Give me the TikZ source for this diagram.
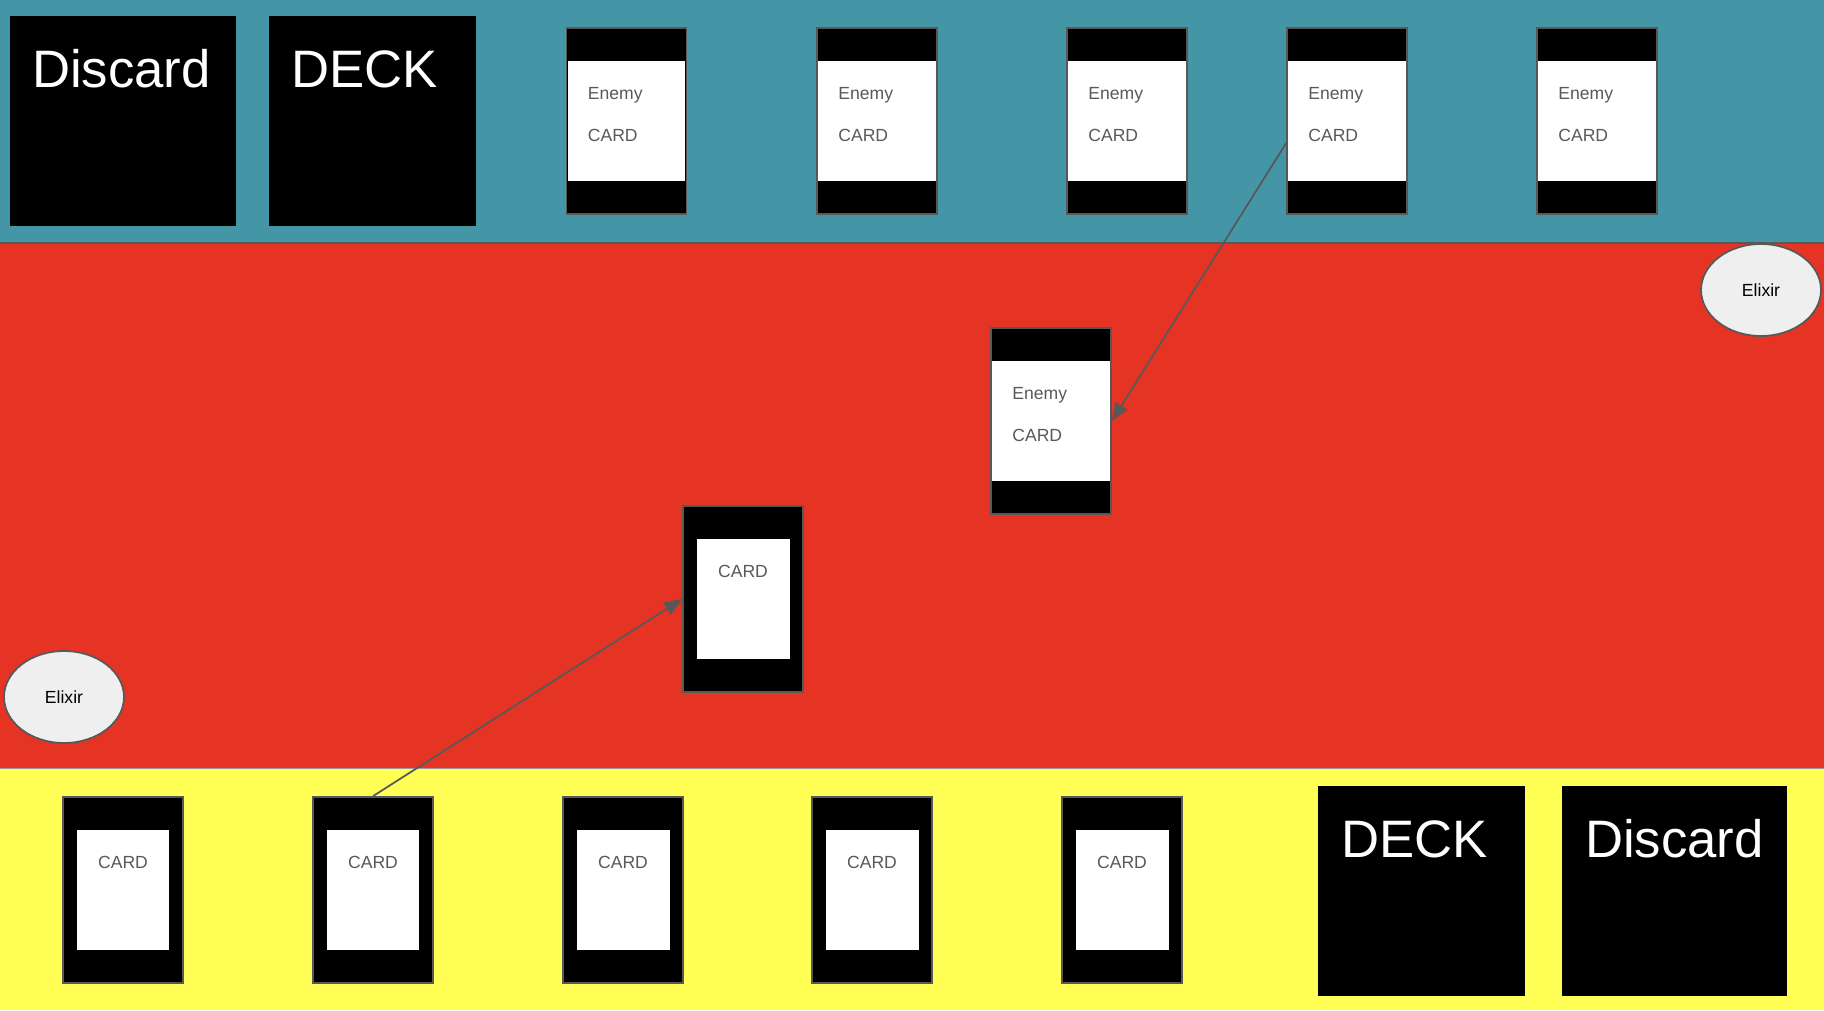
\documentclass[tikz,border=0pt]{standalone}
\usepackage{fontspec}
\setmainfont{Liberation Sans}
\usepackage{xcolor}
\usepackage{tikz}
\usetikzlibrary{shapes.geometric,arrows.meta,positioning,calc}
\definecolor{enemyzone}{RGB}{68,149,166}
\definecolor{arenazone}{RGB}{230,52,36}
\definecolor{playerzone}{RGB}{255,255,85}
\definecolor{edgegray}{RGB}{88,88,88}
\definecolor{textgray}{RGB}{89,89,89}
\definecolor{elixirfill}{RGB}{239,239,239}
\tikzset{
  gb_pile/.style={
    fill=black, minimum height=4.2cm, inner sep=0pt
  },
  gb_piletxt/.style={
    text=white, font=\fontsize{30}{36}\selectfont,
    inner sep=0pt, anchor=base west
  },
  gb_card/.style={
    draw=edgegray, fill=black, line width=1pt,
    minimum width=2.4cm, minimum height=3.72cm, inner sep=0pt
  },
  gb_band/.style={
    fill=white, minimum width=2.36cm, minimum height=2.42cm, inner sep=0pt
  },
  gb_face/.style={
    fill=white, minimum width=1.86cm, minimum height=2.4cm, inner sep=0pt
  },
  gb_txt/.style={
    text=textgray, font=\fontsize{10}{12}\selectfont,
    inner sep=0pt, anchor=base west
  },
  gb_elixir/.style={
    draw=edgegray, fill=elixirfill, ellipse, line width=1pt,
    minimum width=2.4cm, minimum height=1.84cm,
    font=\fontsize{10}{12}\selectfont, inner sep=0pt
  },
  gb_arr/.style={-{Triangle[length=0.36cm,width=0.28cm]}, draw=edgegray, line width=1pt},
}

\begin{document}
\begin{tikzpicture}[x=0.02cm, y=-0.02cm]
\useasboundingbox (0,0) rectangle (1824,1010);

% Zones
\fill[enemyzone]  (0,0)   rectangle (1824,243);
\fill[arenazone]  (0,243) rectangle (1824,768);
\fill[playerzone] (0,768) rectangle (1824,1010);
\draw[edgegray, line width=1pt]       (0,243) -- (1824,243);
\draw[edgegray!60, line width=0.5pt]  (0,768) -- (1824,768);

% Enemy piles
\node[gb_pile, minimum width=4.52cm] (discardtop) at (123,121) {};
\node[gb_pile, minimum width=4.14cm] (decktop)    at (372.5,121) {};
\node[gb_piletxt] (discardtoptxt) at ([shift={(22,72)}]discardtop.north west) {Discard};
\node[gb_piletxt] (decktoptxt)    at ([shift={(22,72)}]decktop.north west) {DECK};

% Enemy hand
\foreach \cx/\i in {626.5/1, 877/2, 1127/3, 1347/4, 1597/5} {
  \node[gb_card] (enemy\i) at (\cx,121) {};
  \node[gb_band] (enemyband\i) at (enemy\i) {};
  \node[gb_txt] (enemyname\i) at ([shift={(-39,-21.7)}]enemy\i.center) {Enemy};
  \node[gb_txt] (enemycard\i) at ([shift={(-39,20.7)}]enemy\i.center) {CARD};
}

% Arena
\node[gb_card] (midenemy) at (1051,421) {};
\node[gb_band] (midenemyband) at (midenemy) {};
\node[gb_txt] (midenemyname) at ([shift={(-39,-21.7)}]midenemy.center) {Enemy};
\node[gb_txt] (midenemycard) at ([shift={(-39,20.7)}]midenemy.center) {CARD};

\node[gb_card] (played) at (743,599) {};
\node[gb_face] (playedface) at (played) {};
\node[gb_txt, anchor=base] (playedname) at ([shift={(0,-21.7)}]played.center) {CARD};

\node[gb_elixir] (elixirtop) at (1761,290) {Elixir};
\node[gb_elixir] (elixirbot) at (64,697) {Elixir};

% Player hand
\foreach \cx/\i in {123/1, 373/2, 623/3, 872/4, 1122/5} {
  \node[gb_card] (hand\i) at (\cx,890) {};
  \node[gb_face] (handface\i) at (hand\i) {};
  \node[gb_txt, anchor=base] (handname\i) at ([shift={(0,-21.7)}]hand\i.center) {CARD};
}

% Player piles
\node[gb_pile, minimum width=4.14cm] (deckbot)    at (1421.5,891) {};
\node[gb_pile, minimum width=4.5cm]  (discardbot) at (1674.5,891) {};
\node[gb_piletxt] (deckbottxt)    at ([shift={(23,72)}]deckbot.north west) {DECK};
\node[gb_piletxt] (discardbottxt) at ([shift={(23,72)}]discardbot.north west) {Discard};

% Moves
\draw[gb_arr] (enemy4.200) -- (midenemy.east);
\draw[gb_arr] (hand2.north) -- (played.west);

\end{tikzpicture}
\end{document}
